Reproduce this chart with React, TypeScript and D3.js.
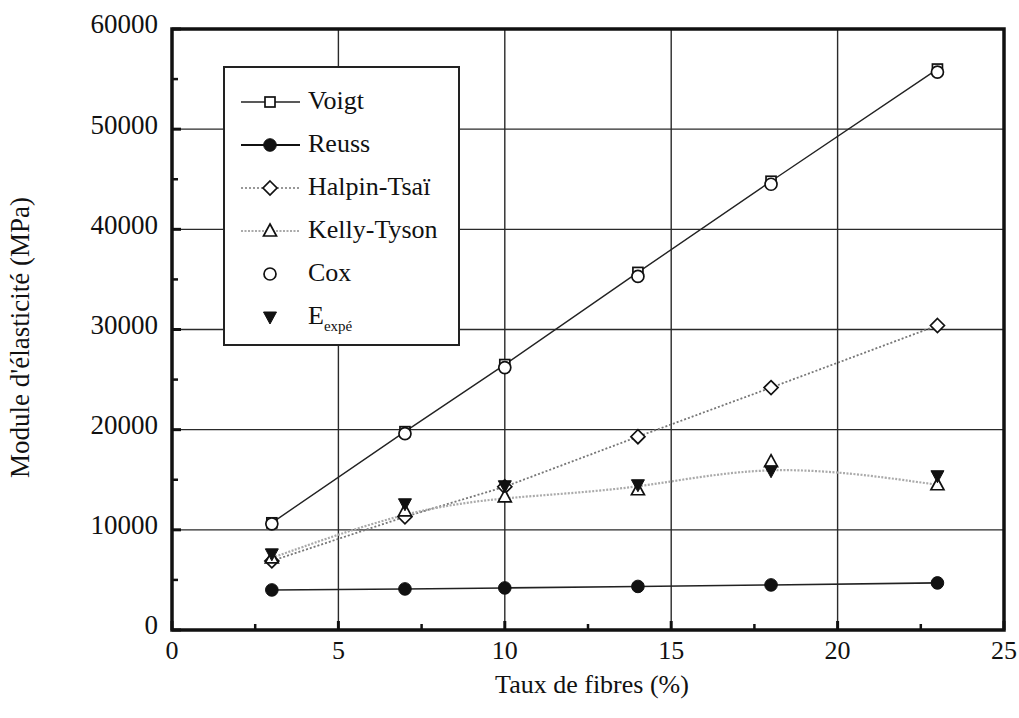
import React from "react";
import * as d3 from "d3";

const fiber = [3, 7, 10, 14, 18, 23];
const voigt = [10700, 19800, 26500, 35700, 44800, 56000];
const reuss = [4000, 4100, 4200, 4350, 4500, 4700];
const halpin = [6900, 11300, 14300, 19300, 24200, 30400];
const kelly = [7200, 11900, 13300, 14000, 16800, 14500];
const cox = [10600, 19600, 26200, 35300, 44500, 55700];
const eexp = [7600, 12600, 14400, 14500, 15900, 15400];

const xTicks = [0, 5, 10, 15, 20, 25];
const yTicks = [0, 10000, 20000, 30000, 40000, 50000, 60000];
const xMinor = [2.5, 7.5, 12.5, 17.5, 22.5];
const yMinor = [5000, 15000, 25000, 35000, 45000, 55000];

const legendItems = ["Voigt", "Reuss", "Halpin-Tsaï", "Kelly-Tyson", "Cox", "E"];

const W = 1019;
const H = 718;
const FONT = "Liberation Serif, DejaVu Serif, Times New Roman, serif";
const tStyle = { fontFamily: FONT };

type Kind = "square" | "circle" | "fcircle" | "diamond" | "tri" | "dtri";

function Marker({ kind, x, y }: { kind: Kind; x: number; y: number }) {
  const sw = 1.7;
  switch (kind) {
    case "square":
      return <rect x={x - 5} y={y - 5} width={10} height={10} fill="white" stroke="#111" strokeWidth={sw} />;
    case "circle":
      return <circle cx={x} cy={y} r={6} fill="white" stroke="#111" strokeWidth={sw} />;
    case "fcircle":
      return <circle cx={x} cy={y} r={6.3} fill="#111" stroke="#111" strokeWidth={1} />;
    case "diamond":
      return (
        <path
          d={`M${x},${y - 7}L${x + 7},${y}L${x},${y + 7}L${x - 7},${y}Z`}
          fill="white"
          stroke="#111"
          strokeWidth={sw}
        />
      );
    case "tri":
      return (
        <path
          d={`M${x},${y - 7}L${x + 6.5},${y + 5}L${x - 6.5},${y + 5}Z`}
          fill="white"
          stroke="#111"
          strokeWidth={sw}
        />
      );
    case "dtri":
      return (
        <path d={`M${x - 6.5},${y - 5}L${x + 6.5},${y - 5}L${x},${y + 7}Z`} fill="#111" stroke="#111" strokeWidth={1} />
      );
  }
}

export default function App() {
  const x = d3.scaleLinear().domain([0, 25]).range([172, 1004]);
  const y = d3.scaleLinear().domain([0, 60000]).range([630, 29]);

  const pts = (vals: number[]) => fiber.map((f, i) => [x(f), y(vals[i])] as [number, number]);
  const lin = d3.line().curve(d3.curveLinear);
  const smooth = d3.line().curve(d3.curveBasis);

  const series: { vals: number[]; kind: Kind }[] = [
    { vals: reuss, kind: "fcircle" },
    { vals: halpin, kind: "diamond" },
    { vals: kelly, kind: "tri" },
    { vals: eexp, kind: "dtri" },
    { vals: voigt, kind: "square" },
    { vals: cox, kind: "circle" },
  ];

  const lx = 224, ly = 67, lw = 235, lh = 278;
  const rowY = (i: number) => 102 + i * 43;
  const legendKinds: Kind[] = ["square", "fcircle", "diamond", "tri", "circle", "dtri"];

  return (
    <div style={{ position: "absolute", left: 0, top: 0 }}>
      <svg width={W} height={H} style={{ display: "block", background: "white", fontFamily: FONT }}>
        {/* gridlines */}
        {xTicks.slice(1, -1).map((t) => (
          <line key={"gx" + t} x1={x(t)} x2={x(t)} y1={y(0)} y2={y(60000)} stroke="#2a2a2a" strokeWidth={1.4} />
        ))}
        {yTicks.slice(1, -1).map((t) => (
          <line key={"gy" + t} x1={x(0)} x2={x(25)} y1={y(t)} y2={y(t)} stroke="#2a2a2a" strokeWidth={1.4} />
        ))}

        {/* ticks */}
        {xTicks.map((t) => (
          <line key={"tx" + t} x1={x(t)} x2={x(t)} y1={y(0)} y2={y(0) - 9} stroke="#111" strokeWidth={3} />
        ))}
        {xMinor.map((t) => (
          <line key={"mx" + t} x1={x(t)} x2={x(t)} y1={y(0)} y2={y(0) - 6} stroke="#111" strokeWidth={2.5} />
        ))}
        {yTicks.map((t) => (
          <line key={"ty" + t} x1={x(0)} x2={x(0) + 9} y1={y(t)} y2={y(t)} stroke="#111" strokeWidth={3} />
        ))}
        {yMinor.map((t) => (
          <line key={"my" + t} x1={x(0)} x2={x(0) + 6} y1={y(t)} y2={y(t)} stroke="#111" strokeWidth={2.5} />
        ))}

        {/* lines */}
        <path d={lin(pts(halpin)) || ""} fill="none" stroke="#777" strokeWidth={1.8} strokeDasharray="2,2" />
        <path d={smooth(pts(kelly)) || ""} fill="none" stroke="#aaa" strokeWidth={2.2} strokeDasharray="2,1.5" />
        <path d={lin(pts(reuss)) || ""} fill="none" stroke="#222" strokeWidth={1.6} />
        <path d={lin(pts(voigt)) || ""} fill="none" stroke="#222" strokeWidth={1.4} />

        {/* markers */}
        {series.map((s, si) =>
          s.vals.map((v, i) => <Marker key={si + "-" + i} kind={s.kind} x={x(fiber[i])} y={y(v)} />)
        )}

        {/* frame */}
        <rect x={x(0)} y={y(60000)} width={x(25) - x(0)} height={y(0) - y(60000)} fill="none" stroke="#111" strokeWidth={3.5} />

        {/* tick labels */}
        {yTicks.map((t) => (
          <text key={"yl" + t} x={158} y={y(t) - 5} dy="0.35em" textAnchor="end" fontSize={27} fill="#111" style={tStyle}>
            {t}
          </text>
        ))}
        {xTicks.map((t) => (
          <text key={"xl" + t} x={x(t)} y={659} textAnchor="middle" fontSize={26} fill="#111" style={tStyle}>
            {t}
          </text>
        ))}

        {/* axis titles */}
        <text x={592} y={693} textAnchor="middle" fontSize={26} fill="#111" style={tStyle}>
          Taux de fibres (%)
        </text>
        <text
          transform={`translate(29,${y(30000) + 8}) rotate(-90)`}
          textAnchor="middle"
          fontSize={27}
          fill="#111"
          style={tStyle}
        >
          Module d'élasticité (MPa)
        </text>

        {/* legend */}
        <rect x={lx} y={ly} width={lw} height={lh} fill="white" stroke="#222" strokeWidth={2} />
        {legendItems.map((name, i) => {
          const cy = rowY(i);
          const kind = legendKinds[i];
          let sample: React.ReactNode = null;
          if (i === 0) sample = <line x1={241} x2={300} y1={cy} y2={cy} stroke="#222" strokeWidth={1.3} />;
          if (i === 1) sample = <line x1={241} x2={300} y1={cy} y2={cy} stroke="#111" strokeWidth={1.8} />;
          if (i === 2)
            sample = <line x1={241} x2={300} y1={cy} y2={cy} stroke="#777" strokeWidth={1.6} strokeDasharray="2,2" />;
          if (i === 3)
            sample = <line x1={241} x2={300} y1={cy} y2={cy} stroke="#aaa" strokeWidth={2} strokeDasharray="2,1.5" />;
          return (
            <g key={name}>
              {sample}
              <Marker kind={kind} x={270} y={cy} />
              <text x={308} y={cy - 2} dy="0.35em" fontSize={26} fill="#111" style={tStyle}>
                {name}
                {i === 5 ? (
                  <tspan fontSize={15} dy={7}>
                    expé
                  </tspan>
                ) : null}
              </text>
            </g>
          );
        })}
      </svg>
    </div>
  );
}
